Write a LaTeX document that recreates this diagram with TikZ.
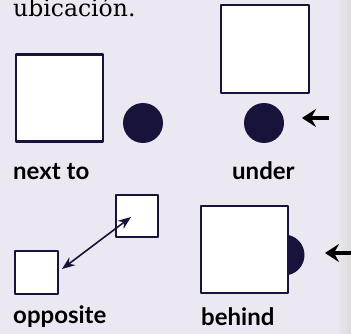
\documentclass[tikz,border=0pt]{standalone}
\usepackage{fontspec}
\setmainfont{DejaVu Serif}
\newfontfamily\labelfont{Lato}
\usetikzlibrary{arrows.meta,calc}
\definecolor{pagebg}{HTML}{ECE8F1}
\definecolor{ink}{HTML}{17133B}
\begin{document}
\begin{tikzpicture}[x=1pt,y=-1pt,line cap=round,line join=round,
  box/.style={draw=ink,fill=white,line width=2.4pt,inner sep=0pt,minimum size=#1},
  dot/.style={circle,fill=ink,inner sep=0pt,minimum size=40pt},
  ptr/.style={-{Stealth[length=14pt,width=18pt,inset=5pt]},draw=black,line width=4pt,line cap=butt},
  word/.style={anchor=base west,inner sep=0pt,font=\labelfont\bfseries\fontsize{24}{24}\selectfont}]
  \fill[pagebg] (0,0) rectangle (351,334);
  \shade[left color=pagebg,right color=black!14] (336,0) rectangle (351,334);
  \useasboundingbox (0,0) rectangle (351,334);

  % Leftover line of the text above.
  \node[anchor=base west,inner sep=0pt,font=\fontsize{23.5}{23.5}\selectfont] (tail) at (13,17) {ubicación.};

  % Panel 1: next to.
  \node[box=87pt] (nextbox) at (59.5,98) {};
  \node[dot] (nextdot) at (143,123) {};
  \node[word] (nextlbl) at (13,179) {next to};

  % Panel 2: under.
  \node[box=88pt] (underbox) at (265,49) {};
  \node[dot] (underdot) at (264,123) {};
  \coordinate (underfrom) at (329,118);
  \coordinate (underto) at (302,118);
  \draw[ptr] (underfrom) -- (underto);
  \node[word] (underlbl) at (232,179) {under};

  % Panel 3: opposite.
  \node[box=42pt,line width=2pt] (oppA) at (137,216) {};
  \node[box=43pt,line width=2pt] (oppB) at (36.5,272) {};
  \draw[{Stealth[length=13pt,width=10pt]}-{Stealth[length=13pt,width=10pt]},ink,line width=1.6pt]
    ($(oppA.center)+(-6,1)$) -- ($(oppB.east)+(3,-3)$);
  \node[word] (opplbl) at (13,323) {opposite};

  % Panel 4: behind.
  \node[dot,minimum size=41pt] (behinddot) at (284,255) {};
  \node[box=87pt,line width=2pt] (behindbox) at (244.5,249.5) {};
  \coordinate (behindfrom) at (352,253);
  \coordinate (behindto) at (325,253);
  \draw[ptr] (behindfrom) -- (behindto);
  \node[word] (behindlbl) at (201,325) {behind};
\end{tikzpicture}
\end{document}
